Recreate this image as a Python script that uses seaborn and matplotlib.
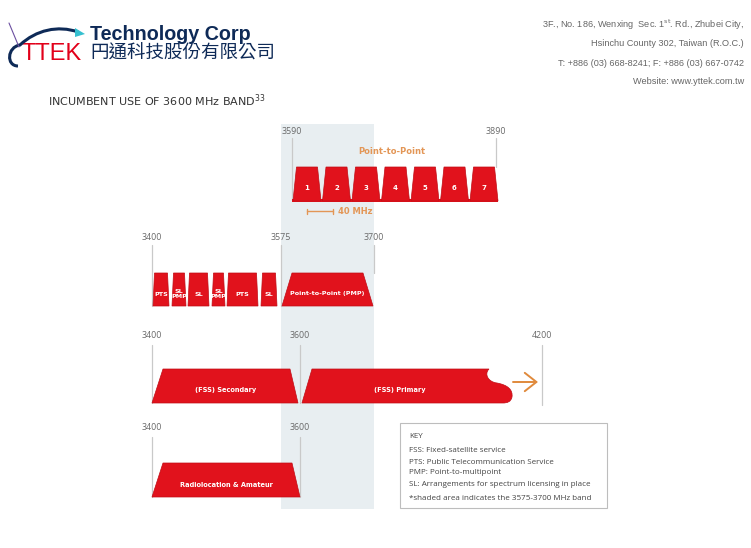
import matplotlib
matplotlib.use("Agg")
import matplotlib.pyplot as plt
from matplotlib.patches import Polygon, Rectangle, PathPatch
from matplotlib.path import Path
import seaborn as sns

sns.set_theme(style="white")
plt.rcParams['font.family'] = ['DejaVu Sans', 'Noto Sans CJK TC']

# ---------------- data ----------------
company_en = "Technology Corp"
company_zh = "円通科技股份有限公司"
brand = "TTEK"
address_lines = [
    "3F., No. 186, Wenxing  Sec. 1$^{\\mathrm{st}}$. Rd., Zhubei City,",
    "Hsinchu County 302, Taiwan (R.O.C.)",
    "T: +886 (03) 668-8241; F: +886 (03) 667-0742",
    "Website: www.yttek.com.tw",
]
title = "INCUMBENT USE OF 3600 MHz BAND"
title_sup = "33"

# row 1: point-to-point channels
row1_tick_labels = ["3590", "3890"]
row1_tick_pos = [292, 496]
row1_blocks = ["1", "2", "3", "4", "5", "6", "7"]
row1_title = "Point-to-Point"
row1_scale_label = "40 MHz"

# row 2
row2_tick_labels = ["3400", "3575", "3700"]
row2_tick_pos = [152, 281, 374]
row2_blocks = ["PTS", "SL\nPMP", "SL", "SL\nPMP", "PTS", "SL", "Point-to-Point (PMP)"]
row2_left = [153, 172, 188, 212, 227, 261, 282]
row2_right = [169, 186, 209, 225, 258, 277, 373]
row2_inset = [1.5, 1.5, 1.5, 1.5, 1.5, 1.5, 10]

# row 3
row3_tick_labels = ["3400", "3600", "4200"]
row3_tick_pos = [152, 300, 542]
row3_blocks = ["(FSS) Secondary", "(FSS) Primary"]

# row 4
row4_tick_labels = ["3400", "3600"]
row4_tick_pos = [152, 300]
row4_blocks = ["Radiolocation & Amateur"]

key_lines = [
    "KEY",
    "FSS: Fixed-satellite service",
    "PTS: Public Telecommunication Service",
    "PMP: Point-to-multipoint",
    "SL: Arrangements for spectrum licensing in place",
    "*shaded area indicates the 3575-3700 MHz band",
]

# ---------------- style ----------------
RED = "#e1121c"
RED_EDGE = "#c00d16"
ORANGE = "#e39656"
GRID = "#c9c9c9"
TICK_TXT = "#6a6a6a"
BAND = "#e8eef1"
NAVY = "#0e2a57"
narrow_bold = dict(family=['Liberation Sans Narrow', 'DejaVu Sans'], fontweight='bold')

fig = plt.figure(figsize=(7.51, 5.48), dpi=100)
ax = fig.add_axes([0, 0, 1, 1])
ax.set_xlim(0, 751)
ax.set_ylim(548, 0)
ax.axis('off')


def trap(x0, x1, ytop, ybot, inset_l, inset_r=None, z=3):
    if inset_r is None:
        inset_r = inset_l
    p = Polygon([(x0, ybot), (x0 + inset_l, ytop), (x1 - inset_r, ytop), (x1, ybot)],
                closed=True, facecolor=RED, edgecolor=RED_EDGE, lw=0.5, zorder=z)
    ax.add_patch(p)


def ticks(labels, pos, ylab, y0, y1s):
    for lab, x, y1 in zip(labels, pos, y1s):
        ax.plot([x, x], [y0, y1], color=GRID, lw=0.9, zorder=2)
        ax.text(x, ylab, lab, ha='center', va='center', fontsize=6.4,
                family=['Open Sans', 'DejaVu Sans'], color=TICK_TXT)


# ---------------- header ----------------
sw = Path([(18, 66), (6, 66), (7, 47), (20, 45), (36, 30), (58, 25), (78, 32)],
          [Path.MOVETO, Path.CURVE4, Path.CURVE4, Path.CURVE4, Path.CURVE4, Path.CURVE4, Path.CURVE4])
ax.add_patch(PathPatch(sw, facecolor='none', edgecolor=NAVY, lw=2.2, zorder=5))
ax.plot([9, 19], [23, 47], color="#6b4fa0", lw=0.8, zorder=5)
ax.add_patch(Polygon([(75, 28), (85, 34), (75, 37)], closed=True, facecolor="#35c0d0",
                     edgecolor='none', zorder=6))
ax.text(21, 54, brand, ha='left', va='center', fontsize=17, color="#e2001a",
        family=['Liberation Sans', 'DejaVu Sans'])
ax.text(90, 34, company_en, ha='left', va='center', fontsize=14.2, color=NAVY,
        fontweight='bold', family=['Liberation Sans', 'DejaVu Sans'])
ax.text(90, 54, company_zh, ha='left', va='center', fontsize=13.3, color=NAVY,
        family=['Noto Sans CJK TC', 'DejaVu Sans'])

for i, line in enumerate(address_lines):
    ax.text(744, 25 + i * 19, line, ha='right', va='center', fontsize=6.6,
            color="#666666", family=['Liberation Sans', 'DejaVu Sans'])

ax.text(48, 101, title + "$^{" + title_sup + "}$", ha='left', va='center', fontsize=8,
        color="#333333")

# ---------------- shaded band ----------------
ax.add_patch(Rectangle((281, 124), 93, 385, facecolor=BAND, edgecolor='none', zorder=1))

# ---------------- row 1 ----------------
ticks(row1_tick_labels, row1_tick_pos, 131, 138, [200, 167])
ax.add_patch(Rectangle((292, 198.5), 206, 3, facecolor=RED, edgecolor='none', zorder=3))
for i, lab in enumerate(row1_blocks):
    x0 = 293 + i * 29.5
    trap(x0, x0 + 28, 167, 201, 3.5)
    ax.text(x0 + 14, 188, lab, ha='center', va='center', color='white', fontsize=5, **narrow_bold, zorder=4)
ax.text(392, 152, row1_title, ha='center', va='center', color=ORANGE, fontsize=6, **narrow_bold)
ax.plot([307, 333], [211, 211], color=ORANGE, lw=1.0)
ax.plot([307, 307], [208.5, 213.5], color=ORANGE, lw=1.0)
ax.plot([333, 333], [208.5, 213.5], color=ORANGE, lw=1.0)
ax.text(338, 211.5, row1_scale_label, ha='left', va='center', color=ORANGE, fontsize=6, **narrow_bold)

# ---------------- row 2 ----------------
ticks(row2_tick_labels, row2_tick_pos, 237, 245, [306, 306, 273])
for lab, x0, x1, ins in zip(row2_blocks, row2_left, row2_right, row2_inset):
    trap(x0, x1, 273, 306, ins)
    ax.text((x0 + x1) / 2, 294, lab, ha='center', va='center', color='white', fontsize=4.6,
            linespacing=1.1, **narrow_bold, zorder=4)

# ---------------- row 3 ----------------
ticks(row3_tick_labels, row3_tick_pos, 336, 345, [403, 403, 405])
trap(152, 298, 369, 403, 11, 8)
ax.text(226, 390, row3_blocks[0], ha='center', va='center', color='white', fontsize=4.8, **narrow_bold, zorder=4)
prim = Path([(302, 403), (312, 369), (489, 369),
             (484, 374), (488, 382), (497, 383),
             (508, 385), (513, 390), (512, 397),
             (511, 402), (507, 403), (503, 403),
             (302, 403), (302, 403)],
            [Path.MOVETO, Path.LINETO, Path.LINETO,
             Path.CURVE4, Path.CURVE4, Path.CURVE4,
             Path.CURVE4, Path.CURVE4, Path.CURVE4,
             Path.CURVE4, Path.CURVE4, Path.CURVE4,
             Path.LINETO, Path.CLOSEPOLY])
ax.add_patch(PathPatch(prim, facecolor=RED, edgecolor=RED_EDGE, lw=0.5, zorder=3))
ax.text(400, 390, row3_blocks[1], ha='center', va='center', color='white', fontsize=4.8, **narrow_bold, zorder=4)
ax.annotate('', xy=(538, 382), xytext=(513, 382),
            arrowprops=dict(arrowstyle='->,head_length=0.7,head_width=0.55', color="#e08a3c",
                            lw=1.4, mutation_scale=12, shrinkA=0, shrinkB=0))

# ---------------- row 4 ----------------
ticks(row4_tick_labels, row4_tick_pos, 428, 437, [497, 497])
trap(152, 300, 463, 497, 11, 8)
ax.text(226, 485, row4_blocks[0], ha='center', va='center', color='white', fontsize=4.8, **narrow_bold, zorder=4)

# ---------------- key ----------------
ax.add_patch(Rectangle((400, 423), 207, 85, facecolor='white', edgecolor="#bdbdbd", lw=0.8, zorder=3))
key_y = [437, 450, 462, 473, 484, 498]
for line, y in zip(key_lines, key_y):
    ax.text(409, y, line, ha='left', va='center', fontsize=5.8, color="#444444",
            family=['Open Sans', 'DejaVu Sans'], zorder=4)

fig.savefig("out.png", dpi=100)
